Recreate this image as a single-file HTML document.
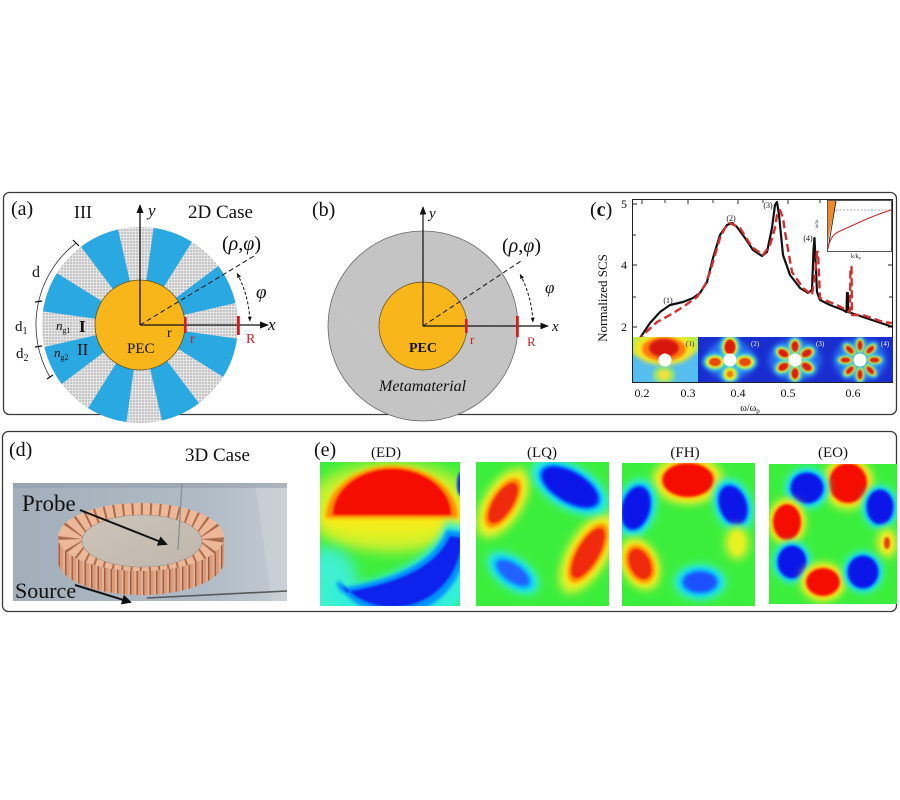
<!DOCTYPE html>
<html><head><meta charset="utf-8"><style>
html,body{margin:0;padding:0;background:#fff;width:900px;height:800px;overflow:hidden}
svg{display:block}
text{font-family:"Liberation Serif",serif;fill:#111}
.it{font-style:italic}
</style></head><body>
<svg width="900" height="800" viewBox="0 0 900 800" xmlns="http://www.w3.org/2000/svg">
<defs>
<pattern id="grid" width="3" height="3" patternUnits="userSpaceOnUse"><rect width="3" height="3" fill="#c5c5c5"/><path d="M0 0.35H3M0.35 0V3" stroke="#ededed" stroke-width="0.7"/></pattern>
<pattern id="hatch" width="3" height="3" patternUnits="userSpaceOnUse" patternTransform="rotate(45)"><rect width="3" height="3" fill="#c6c6c6"/><path d="M0 0.5H3" stroke="#bcbcbc" stroke-width="0.6"/></pattern>
<pattern id="teeth" width="6.5" height="40" patternUnits="userSpaceOnUse"><rect width="6.5" height="40" fill="#e6a584"/><rect x="0" width="1.4" height="40" fill="#a35f43"/><rect x="4.5" width="2" height="40" fill="#f1bd9f"/></pattern>
<marker id="ah" viewBox="0 0 10 10" refX="9" refY="5" markerWidth="7" markerHeight="7" orient="auto-start-reverse"><path d="M0 1L10 5L0 9z" fill="#111"/></marker>
<marker id="ah2" viewBox="0 0 10 10" refX="9" refY="5" markerWidth="5" markerHeight="5" orient="auto-start-reverse"><path d="M0 1L10 5L0 9z" fill="#111"/></marker>
<marker id="ah3" viewBox="0 0 10 10" refX="8" refY="5" markerWidth="5" markerHeight="5" orient="auto-start-reverse"><path d="M0 0L10 5L0 10z" fill="#111"/></marker>
<filter id="f1" x="-50%" y="-50%" width="200%" height="200%"><feGaussianBlur stdDeviation="1"/></filter>
<filter id="f2" x="-50%" y="-50%" width="200%" height="200%"><feGaussianBlur stdDeviation="1.8"/></filter>
<filter id="f3" x="-50%" y="-50%" width="200%" height="200%"><feGaussianBlur stdDeviation="2.8"/></filter>
<filter id="f4" x="-60%" y="-60%" width="220%" height="220%"><feGaussianBlur stdDeviation="4"/></filter>
<filter id="f6" x="-60%" y="-60%" width="220%" height="220%"><feGaussianBlur stdDeviation="7"/></filter>
<filter id="s1" x="-50%" y="-50%" width="200%" height="200%"><feGaussianBlur stdDeviation="0.7"/></filter>
<filter id="s2" x="-50%" y="-50%" width="200%" height="200%"><feGaussianBlur stdDeviation="1.3"/></filter>
<filter id="s3" x="-60%" y="-60%" width="220%" height="220%"><feGaussianBlur stdDeviation="2.2"/></filter>
<linearGradient id="photobg" x1="0" y1="0" x2="1" y2="0"><stop offset="0" stop-color="#a2aeb9"/><stop offset="0.7" stop-color="#b0bbc5"/><stop offset="1" stop-color="#c3cbd3"/></linearGradient>
<linearGradient id="disk" x1="0" y1="0" x2="1" y2="1"><stop offset="0" stop-color="#cdc4ba"/><stop offset="1" stop-color="#bfb6ac"/></linearGradient>
<clipPath id="annclip"><path fill-rule="evenodd" d="M58 537a83 34 0 1 0 166 0a83 34 0 1 0 -166 0ZM82 541a60 26 0 1 0 120 0a60 26 0 1 0 -120 0Z"/></clipPath>
</defs>

<rect width="900" height="800" fill="#fff"/>

<rect x="3.5" y="192.5" width="893" height="222" rx="6" fill="none" stroke="#3a3a3a" stroke-width="1.3"/>
<rect x="2.5" y="431.5" width="894" height="180" rx="6" fill="none" stroke="#3a3a3a" stroke-width="1.3"/>

<!-- ============ (a) ============ -->
<circle cx="140" cy="325" r="98" fill="url(#grid)"/>
<g fill="#2aa8e1">
<path d="M140 325L235.5 303A98 98 0 0 0 218.3 266Z"/>
<path d="M140 325L191.9 241.9A98 98 0 0 0 153.6 227.9Z"/>
<path d="M140 325L118 229.5A98 98 0 0 0 81 246.7Z"/>
<path d="M140 325L56.9 273.1A98 98 0 0 0 43 311.4Z"/>
<path d="M140 325L44.5 347A98 98 0 0 0 61.7 384Z"/>
<path d="M140 325L88.1 408.1A98 98 0 0 0 126.4 422Z"/>
<path d="M140 325L162 420.5A98 98 0 0 0 199 403.3Z"/>
<path d="M140 325L223.1 376.9A98 98 0 0 0 237 338.6Z"/>
</g>
<circle cx="140" cy="325" r="45" fill="#f8b61a" stroke="#5a4a1a" stroke-width="0.7"/>
<line x1="140" y1="325" x2="140" y2="205" stroke="#111" stroke-width="1.3" marker-end="url(#ah)"/>
<line x1="140" y1="325" x2="268" y2="325" stroke="#111" stroke-width="1.3" marker-end="url(#ah)"/>
<line x1="140" y1="325" x2="254" y2="256" stroke="#111" stroke-width="1" stroke-dasharray="5 3"/>
<path d="M237.1 273.4A110 110 0 0 1 249.9 321.2" fill="none" stroke="#111" stroke-width="1" stroke-dasharray="3 2" marker-start="url(#ah2)" marker-end="url(#ah2)"/>
<path d="M76 243A104 104 0 0 0 49.9 377" fill="none" stroke="#333" stroke-width="0.8"/>
<g stroke="#111" stroke-width="1.2"><line x1="73" y1="240" x2="79" y2="246"/><line x1="35" y1="302" x2="42" y2="301"/><line x1="35" y1="347" x2="42" y2="346"/><line x1="47" y1="379" x2="53" y2="375"/></g>
<rect x="184" y="317" width="2.6" height="16" fill="#d61c1c"/>
<rect x="237" y="316" width="2.8" height="19" fill="#d61c1c"/>
<text x="11" y="215" font-size="20">(a)</text>
<text x="74" y="218" font-size="18">III</text>
<text x="148" y="216" font-size="17" class="it">y</text>
<text x="188" y="218" font-size="19">2D Case</text>
<text x="222" y="250" font-size="20">(<tspan class="it">ρ</tspan>,<tspan class="it">φ</tspan>)</text>
<text x="256" y="298" font-size="19" class="it">φ</text>
<text x="32" y="277" font-size="16">d</text>
<text x="15" y="331" font-size="15">d<tspan font-size="10" dy="3">1</tspan></text>
<text x="16" y="358" font-size="15">d<tspan font-size="10" dy="3">2</tspan></text>
<text x="56" y="330" font-size="13" class="it">n<tspan font-size="8" dy="3" font-style="normal">g1</tspan></text>
<text x="79" y="332" font-size="17" font-weight="bold">I</text>
<text x="77" y="355" font-size="17">II</text>
<text x="54" y="357" font-size="13" class="it">n<tspan font-size="8" dy="3" font-style="normal">g2</tspan></text>
<text x="127" y="353" font-size="15">PEC</text>
<text x="167" y="337" font-size="14">r</text>
<text x="190" y="343" font-size="14" style="fill:#c81e1e">r</text>
<text x="246" y="343" font-size="14" style="fill:#c81e1e">R</text>
<text x="268" y="330" font-size="17" class="it">x</text>

<!-- ============ (b) ============ -->
<circle cx="423" cy="326" r="95" fill="url(#hatch)" stroke="#6a6a6a" stroke-width="0.8"/>
<circle cx="423" cy="326" r="44" fill="#f8b61a" stroke="#5a4a1a" stroke-width="0.7"/>
<line x1="423" y1="326" x2="423" y2="207" stroke="#111" stroke-width="1.2" marker-end="url(#ah)"/>
<line x1="423" y1="326" x2="548" y2="326" stroke="#111" stroke-width="1.2" marker-end="url(#ah)"/>
<line x1="423" y1="326" x2="521" y2="261" stroke="#111" stroke-width="1" stroke-dasharray="5 3"/>
<path d="M520.1 274.4A110 110 0 0 1 532.9 322.2" fill="none" stroke="#111" stroke-width="1" stroke-dasharray="3 2" marker-start="url(#ah2)" marker-end="url(#ah2)"/>
<rect x="465" y="319" width="2.6" height="14" fill="#d61c1c"/>
<rect x="516" y="316" width="2.8" height="21" fill="#d61c1c"/>
<text x="312" y="216" font-size="20">(b)</text>
<text x="429" y="218" font-size="15" class="it">y</text>
<text x="502" y="252" font-size="20">(<tspan class="it">ρ</tspan>,<tspan class="it">φ</tspan>)</text>
<text x="545" y="293" font-size="17" class="it">φ</text>
<text x="552" y="331" font-size="15" class="it">x</text>
<text x="470" y="344" font-size="13" style="fill:#c81e1e">r</text>
<text x="527" y="346" font-size="13" style="fill:#c81e1e">R</text>
<text x="409" y="352" font-size="14" font-weight="bold">PEC</text>
<text x="379" y="391" font-size="16" class="it">Metamaterial</text>

<!-- ============ (c) ============ -->
<text x="590" y="216" font-size="20">(<tspan font-weight="bold">c</tspan>)</text>
<rect x="632.5" y="199.5" width="260" height="183" fill="none" stroke="#222" stroke-width="1"/>
<g stroke="#222" stroke-width="0.9">
<path d="M633 204h4M633 235h3M633 265h4M633 297h3M633 327h4M892 204h-4M892 235h-3M892 265h-4M892 297h-3M892 327h-4"/>
<path d="M642 200v4M665 200v3M688 200v4M713 200v3M738 200v4M763 200v3M788 200v4M820 200v3M853 200v4M875 200v3"/>
<path d="M642 382v-4M665 382v-3M688 382v-4M713 382v-3M738 382v-4M763 382v-3M788 382v-4M820 382v-3M853 382v-4M875 382v-3"/>
</g>
<text x="624" y="208" font-size="12" text-anchor="middle">5</text>
<text x="624" y="269" font-size="12" text-anchor="middle">4</text>
<text x="624" y="331" font-size="12" text-anchor="middle">2</text>
<text transform="translate(607 298) rotate(-90)" font-size="13" text-anchor="middle">Normalized SCS</text>
<g font-size="12" text-anchor="middle">
<text x="642" y="397">0.2</text><text x="688" y="397">0.3</text><text x="738" y="397">0.4</text><text x="788" y="397">0.5</text><text x="853" y="397">0.6</text>
</g>
<text x="750" y="411" font-size="10" text-anchor="middle">ω/ω<tspan font-size="7" dy="2">p</tspan></text>

<polyline fill="none" stroke="#111" stroke-width="2.2" stroke-linejoin="round" points="638,341 642,335 650,323 660,312 670,305 683,302 693,298 700,293 707,282 713,258 720,235 727,225 732,223 737,227 745,238 753,250 762,256 767,252 772,228 775,205 777,202 779,215 783,255 790,275 800,288 808,293 812,290 813.5,250 814.5,238 815.5,260 817,292 820,300 830,305 843,310 846.5,312 847,293 847.8,293 848.3,312 863,317 893,327"/>
<polyline fill="none" stroke="#d23030" stroke-width="2.4" stroke-dasharray="8 4" stroke-linejoin="round" points="638,342 643,335 657,322 670,315 683,307 697,297 705,285 710,272 720,238 725,228 730,223 740,228 752,247 763,255 770,245 775,228 777,215 780,210 783,218 785,232 792,272 803,288 812,295 815,275 817,252 818,252 819,275 820,298 837,305 850,312 850.5,267 851.5,267 852,315 863,315 883,322 892,323"/>
<g font-size="8" text-anchor="middle"><text x="668" y="303">(1)</text><text x="731" y="221">(2)</text><text x="768" y="208">(3)</text><text x="808" y="241">(4)</text></g>

<rect x="827.5" y="200.5" width="64" height="51" fill="#fff" stroke="#333" stroke-width="0.8"/>
<polygon points="828,201 836,201 828,241" fill="#f08a28"/>
<line x1="828" y1="249" x2="836" y2="201" stroke="#111" stroke-width="0.8"/>
<line x1="836" y1="210" x2="891" y2="210" stroke="#555" stroke-width="0.6" stroke-dasharray="2 1.5"/>
<path d="M828 249Q830 236 838 232L860 222Q878 214 891 210" fill="none" stroke="#c02828" stroke-width="1"/>
<text x="851" y="258" font-size="6">k/k<tspan font-size="4" dy="1">p</tspan></text>
<text transform="translate(818 228) rotate(-90)" font-size="5">ω/ω</text>

<svg x="633" y="337" width="65" height="45" viewBox="0 0 65 45">
<rect width="65" height="45" fill="#55bdf0"/>
<ellipse cx="8" cy="4" rx="22" ry="14" fill="#b4ee48" filter="url(#s3)"/>
<ellipse cx="58" cy="4" rx="16" ry="12" fill="#b8ee48" filter="url(#s3)"/>
<ellipse cx="31" cy="12" rx="30" ry="16" fill="#f4e428" filter="url(#s3)"/>
<ellipse cx="31" cy="12" rx="22" ry="12" fill="#ff7c08" filter="url(#s2)"/>
<ellipse cx="31" cy="11" rx="15" ry="9" fill="#d8140a" filter="url(#s2)"/>
<ellipse cx="31" cy="38" rx="11" ry="9" fill="#9ee868" filter="url(#s3)"/>
<ellipse cx="31" cy="38" rx="6" ry="5" fill="#eee040" filter="url(#s2)"/>
<circle cx="32" cy="23" r="6.5" fill="#fff"/>
</svg>
<svg x="698" y="337" width="65" height="45" viewBox="0 0 65 45">
<rect width="65" height="45" fill="#1a2ed0"/>
<ellipse cx="32" cy="23" rx="24" ry="20" fill="#2a6cf0" filter="url(#f3)"/>
<g transform="translate(32 10)"><ellipse rx="10" ry="13" fill="#38e0e8" filter="url(#s3)"/><ellipse rx="7.5" ry="10" fill="#f2ee20" filter="url(#s2)"/><ellipse rx="5.5" ry="7.5" fill="#e01a08" filter="url(#s1)"/></g>
<g transform="translate(17 25)"><ellipse rx="12" ry="8.5" fill="#38e0e8" filter="url(#s3)"/><ellipse rx="9" ry="6.5" fill="#f2ee20" filter="url(#s2)"/><ellipse rx="6" ry="4.3" fill="#ea4a08" filter="url(#s1)"/></g>
<g transform="translate(47 25)"><ellipse rx="12" ry="8.5" fill="#38e0e8" filter="url(#s3)"/><ellipse rx="9" ry="6.5" fill="#f2ee20" filter="url(#s2)"/><ellipse rx="6" ry="4.3" fill="#ea4a08" filter="url(#s1)"/></g>
<g transform="translate(32 37)"><ellipse rx="9" ry="9" fill="#38e0e8" filter="url(#s3)"/><ellipse rx="6.5" ry="6.5" fill="#f2ee20" filter="url(#s2)"/><ellipse rx="3.5" ry="3.5" fill="#f08010" filter="url(#s1)"/></g>
<circle cx="32" cy="23" r="6.5" fill="#fff"/>
</svg>
<svg x="763" y="337" width="65" height="45" viewBox="0 0 65 45">
<rect width="65" height="45" fill="#1a2ed0"/>
<ellipse cx="32" cy="23" rx="26" ry="21" fill="#2a6cf0" filter="url(#f3)"/>
<g transform="translate(32 9.5)"><ellipse rx="7" ry="9.5" fill="#38e0e8" filter="url(#s3)"/><ellipse rx="5.2" ry="7.5" fill="#f2ee20" filter="url(#s2)"/><ellipse rx="3.6" ry="5.5" fill="#e01a08" filter="url(#s1)"/></g>
<g transform="translate(43.7 16.3) rotate(60)"><ellipse rx="7" ry="9.5" fill="#38e0e8" filter="url(#s3)"/><ellipse rx="5.2" ry="7.5" fill="#f2ee20" filter="url(#s2)"/><ellipse rx="3.6" ry="5.5" fill="#e01a08" filter="url(#s1)"/></g>
<g transform="translate(43.7 29.8) rotate(-60)"><ellipse rx="7" ry="9.5" fill="#38e0e8" filter="url(#s3)"/><ellipse rx="5.2" ry="7.5" fill="#f2ee20" filter="url(#s2)"/><ellipse rx="3.6" ry="5.5" fill="#e01a08" filter="url(#s1)"/></g>
<g transform="translate(32 36.5)"><ellipse rx="7" ry="9.5" fill="#38e0e8" filter="url(#s3)"/><ellipse rx="5.2" ry="7.5" fill="#f2ee20" filter="url(#s2)"/><ellipse rx="3.6" ry="5.5" fill="#e01a08" filter="url(#s1)"/></g>
<g transform="translate(20.3 29.8) rotate(60)"><ellipse rx="7" ry="9.5" fill="#38e0e8" filter="url(#s3)"/><ellipse rx="5.2" ry="7.5" fill="#f2ee20" filter="url(#s2)"/><ellipse rx="3.6" ry="5.5" fill="#e01a08" filter="url(#s1)"/></g>
<g transform="translate(20.3 16.3) rotate(-60)"><ellipse rx="7" ry="9.5" fill="#38e0e8" filter="url(#s3)"/><ellipse rx="5.2" ry="7.5" fill="#f2ee20" filter="url(#s2)"/><ellipse rx="3.6" ry="5.5" fill="#e01a08" filter="url(#s1)"/></g>
<circle cx="32" cy="23" r="6.5" fill="#fff"/>
</svg>
<svg x="828" y="337" width="65" height="45" viewBox="0 0 65 45">
<rect width="65" height="45" fill="#1a2ed0"/>
<ellipse cx="32" cy="23" rx="26" ry="21" fill="#2a6cf0" filter="url(#f3)"/>
<g transform="translate(32 8.5)"><ellipse rx="5" ry="9" fill="#38e0e8" filter="url(#s3)"/><ellipse rx="3.8" ry="7" fill="#f2ee20" filter="url(#s2)"/><ellipse rx="2.5" ry="5" fill="#e01a08" filter="url(#s1)"/></g>
<g transform="translate(42.3 12.7) rotate(45)"><ellipse rx="5" ry="9" fill="#38e0e8" filter="url(#s3)"/><ellipse rx="3.8" ry="7" fill="#f2ee20" filter="url(#s2)"/><ellipse rx="2.5" ry="5" fill="#e01a08" filter="url(#s1)"/></g>
<g transform="translate(46.5 23) rotate(90)"><ellipse rx="5" ry="9" fill="#38e0e8" filter="url(#s3)"/><ellipse rx="3.8" ry="7" fill="#f2ee20" filter="url(#s2)"/><ellipse rx="2.5" ry="5" fill="#e01a08" filter="url(#s1)"/></g>
<g transform="translate(42.3 33.3) rotate(-45)"><ellipse rx="5" ry="9" fill="#38e0e8" filter="url(#s3)"/><ellipse rx="3.8" ry="7" fill="#f2ee20" filter="url(#s2)"/><ellipse rx="2.5" ry="5" fill="#e01a08" filter="url(#s1)"/></g>
<g transform="translate(32 37.5)"><ellipse rx="5" ry="9" fill="#38e0e8" filter="url(#s3)"/><ellipse rx="3.8" ry="7" fill="#f2ee20" filter="url(#s2)"/><ellipse rx="2.5" ry="5" fill="#e01a08" filter="url(#s1)"/></g>
<g transform="translate(21.7 33.3) rotate(45)"><ellipse rx="5" ry="9" fill="#38e0e8" filter="url(#s3)"/><ellipse rx="3.8" ry="7" fill="#f2ee20" filter="url(#s2)"/><ellipse rx="2.5" ry="5" fill="#e01a08" filter="url(#s1)"/></g>
<g transform="translate(17.5 23) rotate(90)"><ellipse rx="5" ry="9" fill="#38e0e8" filter="url(#s3)"/><ellipse rx="3.8" ry="7" fill="#f2ee20" filter="url(#s2)"/><ellipse rx="2.5" ry="5" fill="#e01a08" filter="url(#s1)"/></g>
<g transform="translate(21.7 12.7) rotate(-45)"><ellipse rx="5" ry="9" fill="#38e0e8" filter="url(#s3)"/><ellipse rx="3.8" ry="7" fill="#f2ee20" filter="url(#s2)"/><ellipse rx="2.5" ry="5" fill="#e01a08" filter="url(#s1)"/></g>
<circle cx="32" cy="23" r="6.5" fill="#fff"/>
</svg>
<g font-size="7"><text x="686" y="346" style="fill:#222">(1)</text><text x="751" y="346" style="fill:#fff">(2)</text><text x="816" y="346" style="fill:#fff">(3)</text><text x="881" y="346" style="fill:#fff">(4)</text></g>

<!-- ============ (d) ============ -->
<text x="9" y="456" font-size="20">(d)</text>
<text x="185" y="461" font-size="19">3D Case</text>
<rect x="13" y="483" width="274" height="118" fill="url(#photobg)"/>
<polygon points="255,483 287,483 287,601 272,601" fill="#cdd4db" opacity="0.6"/>
<rect x="13" y="483" width="274" height="5" fill="#8e9aa5" opacity="0.5"/>
<path d="M58 537A83 34 0 0 0 224 537L224 561A83 34 0 0 1 58 561Z" fill="url(#teeth)"/>
<path d="M58 537A83 34 0 0 0 224 537L224 561A83 34 0 0 1 58 561Z" fill="#7a4030" opacity="0.1"/>
<path fill-rule="evenodd" d="M58 537a83 34 0 1 0 166 0a83 34 0 1 0 -166 0ZM82 541a60 26 0 1 0 120 0a60 26 0 1 0 -120 0Z" fill="#edb898"/>
<g clip-path="url(#annclip)"><ellipse cx="141.5" cy="539" rx="71.5" ry="30" fill="none" stroke="#a96c50" stroke-width="24" stroke-dasharray="2 7.2"/></g>
<ellipse cx="142" cy="541" rx="60" ry="26" fill="url(#disk)" stroke="#9a8f86" stroke-width="0.6"/>
<line x1="182" y1="483" x2="178" y2="550" stroke="#8a8f95" stroke-width="1.3"/>
<path d="M147 598L287 591" stroke="#55585c" stroke-width="1.6"/>
<text x="22" y="511" font-size="23">Probe</text>
<text x="15" y="598" font-size="22">Source</text>
<line x1="80" y1="510" x2="166" y2="544" stroke="#111" stroke-width="2" marker-end="url(#ah3)"/>
<line x1="75" y1="585" x2="130" y2="602" stroke="#111" stroke-width="2" marker-end="url(#ah3)"/>

<!-- ============ (e) ============ -->
<text x="314" y="456" font-size="20">(e)</text>
<g font-size="15" text-anchor="middle"><text x="386" y="457">(ED)</text><text x="542" y="457">(LQ)</text><text x="685" y="457">(FH)</text><text x="833" y="457">(EO)</text></g>

<svg x="320" y="462" width="140" height="144" viewBox="0 0 140 144">
<rect width="140" height="144" fill="#3cee3c"/>
<ellipse cx="72" cy="45" rx="85" ry="45" fill="#c8f030" filter="url(#f6)"/>
<ellipse cx="8" cy="125" rx="30" ry="40" fill="#40f0d0" filter="url(#f6)"/>
<ellipse cx="72" cy="64" rx="72" ry="16" fill="#e0f224" filter="url(#f6)"/>
<ellipse cx="72" cy="60" rx="66" ry="9" fill="#f4ec1c" filter="url(#f3)"/>
<path d="M2 60A70 56 0 0 1 142 60Z" fill="#f6e818" filter="url(#f3)"/>
<path d="M6 56A66 52 0 0 1 138 56Z" fill="#ff8a00" filter="url(#f2)"/>
<path d="M13 53A59 46 0 0 1 131 53Z" fill="#f51000" filter="url(#f1)"/>
<path d="M14 124A68 68 0 0 0 143 70L130 66Q112 114 18 132Z" fill="#30f0d8" stroke="#30f0d8" stroke-width="12" filter="url(#f4)"/>
<path d="M18 120A68 68 0 0 0 142 72L128 70Q110 114 22 128Z" fill="#0090ff" stroke="#0090ff" stroke-width="4" filter="url(#f2)"/>
<path d="M22 122A68 68 0 0 0 141 76L130 74Q112 116 26 130Z" fill="#0a20ec" filter="url(#f1)"/>
<ellipse cx="141" cy="22" rx="4" ry="12" fill="#1030e0" filter="url(#f1)"/>
</svg>

<svg x="476" y="462" width="133" height="144" viewBox="0 0 133 144">
<rect width="133" height="144" fill="#3cee3c"/>
<g transform="translate(27 41) rotate(-58)"><ellipse rx="40" ry="20" fill="#d0f030" filter="url(#f4)"/><ellipse rx="32" ry="15" fill="#ffe818" filter="url(#f3)"/><ellipse rx="28" ry="12.5" fill="#ff8800" filter="url(#f2)"/><ellipse rx="23" ry="9.5" fill="#f02a08" filter="url(#f1)"/></g>
<g transform="translate(112 91) rotate(-60)"><ellipse rx="46" ry="21" fill="#d0f030" filter="url(#f4)"/><ellipse rx="37" ry="16" fill="#ffe818" filter="url(#f3)"/><ellipse rx="33" ry="13.5" fill="#ff8800" filter="url(#f2)"/><ellipse rx="28" ry="10.5" fill="#f02a08" filter="url(#f1)"/></g>
<g transform="translate(94 25) rotate(30)"><ellipse rx="43" ry="22" fill="#30f0d8" filter="url(#f4)"/><ellipse rx="36" ry="18" fill="#00c8ff" filter="url(#f3)"/><ellipse rx="33" ry="16" fill="#0050ff" filter="url(#f2)"/><ellipse rx="30" ry="14" fill="#0a14e8" filter="url(#f1)"/></g>
<g transform="translate(37 111) rotate(35)"><ellipse rx="30" ry="16" fill="#30f0d8" filter="url(#f4)"/><ellipse rx="24" ry="12" fill="#00c0ff" filter="url(#f3)"/><ellipse rx="19" ry="8.5" fill="#2060ff" filter="url(#f2)"/></g>
</svg>

<svg x="622" y="463" width="133" height="143" viewBox="0 0 133 143">
<rect width="133" height="143" fill="#3cee3c"/>
<g transform="translate(66 17)"><ellipse rx="36" ry="25" fill="#d0f030" filter="url(#f4)"/><ellipse rx="30" ry="20" fill="#ffe818" filter="url(#f3)"/><ellipse rx="27" ry="18" fill="#ff8800" filter="url(#f2)"/><ellipse rx="25" ry="16.5" fill="#f51000" filter="url(#f1)"/></g>
<g transform="translate(14 45) rotate(15)"><ellipse rx="20" ry="30" fill="#30f0d8" filter="url(#f4)"/><ellipse rx="16" ry="25" fill="#00c8ff" filter="url(#f3)"/><ellipse rx="14.5" ry="23" fill="#0050ff" filter="url(#f2)"/><ellipse rx="13" ry="21" fill="#0a14e8" filter="url(#f1)"/></g>
<g transform="translate(111 42) rotate(-20)"><ellipse rx="19" ry="28" fill="#30f0d8" filter="url(#f4)"/><ellipse rx="15.5" ry="23" fill="#00c8ff" filter="url(#f3)"/><ellipse rx="14" ry="21" fill="#0050ff" filter="url(#f2)"/><ellipse rx="12.5" ry="19" fill="#0a14e8" filter="url(#f1)"/></g>
<g transform="translate(18 101) rotate(-25)"><ellipse rx="19" ry="28" fill="#d0f030" filter="url(#f4)"/><ellipse rx="15.5" ry="23" fill="#ffe818" filter="url(#f3)"/><ellipse rx="13.5" ry="20" fill="#ff8800" filter="url(#f2)"/><ellipse rx="10" ry="16" fill="#f02a08" filter="url(#f1)"/></g>
<g transform="translate(115 80)"><ellipse rx="13" ry="18" fill="#b8f030" filter="url(#f4)"/><ellipse rx="8" ry="12" fill="#e8f020" filter="url(#f2)"/></g>
<g transform="translate(78 119)"><ellipse rx="26" ry="18" fill="#30f0d8" filter="url(#f4)"/><ellipse rx="21" ry="14" fill="#00c0ff" filter="url(#f3)"/><ellipse rx="17" ry="10.5" fill="#1a50ff" filter="url(#f2)"/></g>
</svg>

<svg x="769" y="464" width="128" height="140" viewBox="0 0 128 140">
<rect width="128" height="140" fill="#3cee3c"/>
<g transform="translate(79 19)"><ellipse rx="26" ry="27" fill="#d0f030" filter="url(#f4)"/><ellipse rx="21.5" ry="22.5" fill="#ffe818" filter="url(#f3)"/><ellipse rx="20" ry="21" fill="#ff8800" filter="url(#f2)"/><ellipse rx="18.5" ry="19.5" fill="#f51000" filter="url(#f1)"/></g>
<g transform="translate(38 24)"><ellipse rx="22" ry="21" fill="#30f0d8" filter="url(#f4)"/><ellipse rx="18.5" ry="17.5" fill="#00c8ff" filter="url(#f3)"/><ellipse rx="16.5" ry="15.5" fill="#0050ff" filter="url(#f2)"/><ellipse rx="15.5" ry="14.5" fill="#0a14e8" filter="url(#f1)"/></g>
<g transform="translate(111 43)"><ellipse rx="18" ry="22" fill="#30f0d8" filter="url(#f4)"/><ellipse rx="15" ry="19" fill="#00c8ff" filter="url(#f3)"/><ellipse rx="13.5" ry="17.5" fill="#0050ff" filter="url(#f2)"/><ellipse rx="12.5" ry="16.5" fill="#0a14e8" filter="url(#f1)"/></g>
<g transform="translate(18 58)"><ellipse rx="19" ry="24" fill="#d0f030" filter="url(#f4)"/><ellipse rx="16" ry="20.5" fill="#ffe818" filter="url(#f3)"/><ellipse rx="14.5" ry="18.5" fill="#ff8800" filter="url(#f2)"/><ellipse rx="13.5" ry="17.5" fill="#f51000" filter="url(#f1)"/></g>
<g transform="translate(118 79)"><ellipse rx="11" ry="16" fill="#c0f030" filter="url(#f4)"/><ellipse rx="7" ry="11" fill="#f0e820" filter="url(#f2)"/><ellipse rx="3" ry="6" fill="#e83a10" filter="url(#f1)"/></g>
<g transform="translate(23 98)"><ellipse rx="19" ry="21" fill="#30f0d8" filter="url(#f4)"/><ellipse rx="16" ry="18" fill="#00c8ff" filter="url(#f3)"/><ellipse rx="14.5" ry="16.5" fill="#0050ff" filter="url(#f2)"/><ellipse rx="13.5" ry="15.5" fill="#0a14e8" filter="url(#f1)"/></g>
<g transform="translate(54 118)"><ellipse rx="23" ry="20" fill="#d0f030" filter="url(#f4)"/><ellipse rx="19.5" ry="16.5" fill="#ffe818" filter="url(#f3)"/><ellipse rx="17.5" ry="14.5" fill="#ff8800" filter="url(#f2)"/><ellipse rx="16.5" ry="13.5" fill="#f51000" filter="url(#f1)"/></g>
<g transform="translate(94 108)"><ellipse rx="20" ry="21" fill="#30f0d8" filter="url(#f4)"/><ellipse rx="17" ry="18" fill="#00c8ff" filter="url(#f3)"/><ellipse rx="15.5" ry="16.5" fill="#0050ff" filter="url(#f2)"/><ellipse rx="14.5" ry="15.5" fill="#0a14e8" filter="url(#f1)"/></g>
</svg>

</svg>
</body></html>
